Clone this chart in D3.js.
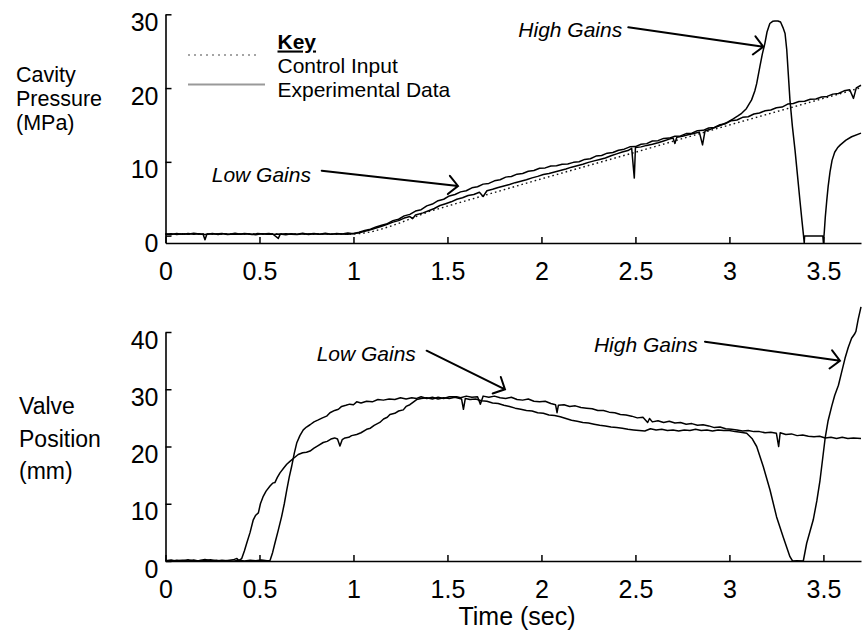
<!DOCTYPE html>
<html>
<head>
<meta charset="utf-8">
<script src="https://cdn.jsdelivr.net/npm/d3@7"></script>
<style>
  body { margin: 0; background: #fff; }
  svg { display: block; font-family: "Liberation Sans", Arial, Helvetica, sans-serif; }
</style>
</head>
<body>
<svg id="chart" width="863" height="639"></svg>
<script>
// ---- data -------------------------------------------------------------
const timeTicks = [0, 0.5, 1, 1.5, 2, 2.5, 3, 3.5];
const pressureTicks = [0, 10, 20, 30];
const valveTicks = [0, 10, 20, 30, 40];

// control input (MPa) vs time (s)
const controlInput = [
  [0,0.22],[1.0,0.22],[1.05,0.32],[1.1,0.55],[1.15,0.9],[1.2,1.3],[1.25,1.75],[1.3,2.25],
  [1.35,2.75],[1.4,3.25],[1.5,4.0],[1.75,5.85],[2.0,7.7],[2.25,9.5],[2.5,11.3],
  [2.75,13.15],[3.0,15.0],[3.25,16.8],[3.5,18.6],[3.7,20.05]
];

// cavity pressure, low gains (MPa)
const pressureLowGains = [
  [0.00,0.22],[0.03,0.14],[0.06,0.28],[0.09,0.17],[0.12,0.30],[0.15,0.19],[0.18,0.26],[0.20,0.18],
  [0.21,-0.55],[0.22,0.20],[0.25,0.29],[0.28,0.16],[0.31,0.27],[0.34,0.20],[0.37,0.32],[0.40,0.18],
  [0.43,0.25],[0.46,0.14],[0.49,0.28],[0.52,0.21],[0.55,0.30],[0.58,0.17],[0.61,0.23],[0.64,0.12],
  [0.67,0.25],[0.70,0.19],[0.73,0.31],[0.76,0.16],[0.79,0.24],[0.82,0.20],[0.85,0.33],[0.88,0.19],
  [0.91,0.27],[0.94,0.22],[0.97,0.34],[1.00,0.25],[1.03,0.45],[1.06,0.70],[1.09,0.86],[1.12,1.18],
  [1.15,1.40],[1.18,1.63],[1.21,2.03],[1.24,2.22],[1.27,2.68],[1.30,2.88],[1.33,3.33],[1.36,3.52],
  [1.39,4.03],[1.42,4.28],[1.45,4.73],[1.48,4.93],[1.51,5.38],[1.54,5.58],[1.57,5.93],[1.60,6.08],
  [1.63,6.48],[1.66,6.62],[1.69,6.98],[1.72,7.08],[1.75,7.43],[1.78,7.58],[1.81,7.93],[1.84,8.02],
  [1.87,8.33],[1.90,8.43],[1.93,8.73],[1.96,8.82],[1.99,9.13],[2.02,9.18],[2.05,9.43],[2.08,9.47],
  [2.11,9.68],[2.14,9.72],[2.17,9.93],[2.20,10.02],[2.23,10.33],[2.26,10.42],[2.29,10.78],[2.32,10.87],
  [2.35,11.18],[2.38,11.27],[2.41,11.58],[2.44,11.72],[2.47,12.03],[2.50,12.07],[2.53,12.38],[2.56,12.47],
  [2.59,12.83],[2.62,12.87],[2.65,13.18],[2.68,13.22],[2.71,13.48],[2.74,13.52],[2.77,13.83],[2.80,13.87],
  [2.83,14.23],[2.86,14.27],[2.89,14.58],[2.92,14.67],[2.95,15.03],[2.98,15.17],[3.01,15.58],[3.04,15.67],
  [3.07,16.03],[3.10,16.12],[3.13,16.48],[3.16,16.62],[3.19,16.93],[3.22,17.02],[3.25,17.33],[3.28,17.42],
  [3.31,17.83],[3.34,17.92],[3.37,18.18],[3.40,18.22],[3.43,18.48],[3.46,18.52],[3.49,18.78],[3.52,18.87],
  [3.55,19.18],[3.58,19.27],[3.61,19.63],[3.64,19.78],[3.66,18.60],[3.675,20.03],[3.70,20.38]
];

// cavity pressure, high gains (MPa)
const pressureHighGains = [
  [0.00,0.20],[0.03,0.27],[0.06,0.16],[0.09,0.25],[0.12,0.19],[0.15,0.31],[0.18,0.22],[0.21,0.16],
  [0.24,0.26],[0.27,0.21],[0.30,0.29],[0.33,0.15],[0.36,0.23],[0.39,0.19],[0.42,0.28],[0.45,0.22],
  [0.48,0.13],[0.51,0.25],[0.54,0.18],[0.57,0.22],[0.60,-0.38],[0.61,0.17],[0.64,0.26],[0.67,0.20],
  [0.70,0.14],[0.73,0.25],[0.76,0.21],[0.79,0.30],[0.82,0.19],[0.85,0.24],[0.88,0.17],[0.91,0.28],
  [0.94,0.23],[0.97,0.19],[1.00,0.30],[1.03,0.40],[1.06,0.58],[1.09,0.78],[1.12,1.03],[1.15,1.28],
  [1.18,1.53],[1.21,1.83],[1.24,2.03],[1.27,2.38],[1.30,2.58],[1.315,2.30],[1.33,2.80],[1.37,3.08],
  [1.40,3.38],[1.43,3.68],[1.46,4.08],[1.49,4.33],[1.52,4.58],[1.55,4.93],[1.58,5.13],[1.61,5.43],
  [1.64,5.58],[1.67,5.88],[1.69,5.30],[1.71,6.08],[1.74,6.28],[1.77,6.53],[1.80,6.73],[1.83,6.93],
  [1.86,7.18],[1.89,7.38],[1.92,7.58],[1.95,7.83],[1.98,8.03],[2.01,8.28],[2.04,8.43],[2.07,8.63],
  [2.10,8.83],[2.13,9.03],[2.16,9.28],[2.19,9.48],[2.22,9.68],[2.25,9.93],[2.28,10.13],[2.31,10.33],
  [2.34,10.53],[2.37,10.83],[2.40,11.08],[2.43,11.33],[2.46,11.53],[2.48,11.83],[2.494,7.80],[2.50,11.93],
  [2.53,12.03],[2.56,12.23],[2.59,12.38],[2.62,12.58],[2.65,12.83],[2.68,13.08],[2.70,13.23],[2.71,12.50],
  [2.72,13.33],[2.75,13.48],[2.78,13.68],[2.81,13.83],[2.84,14.03],[2.857,12.30],[2.87,14.18],[2.90,14.43],
  [2.93,14.73],[2.96,15.03],[2.99,15.38],[3.02,15.83],[3.045,16.23],[3.065,16.58],[3.09,17.20],[3.118,18.40],
  [3.135,19.60],[3.145,20.60],[3.162,22.90],[3.175,24.60],[3.189,26.10],[3.20,27.60],[3.215,28.75],[3.23,29.05],
  [3.242,29.10],[3.258,29.10],[3.272,28.95],[3.285,28.20],[3.296,27.40],[3.305,25.20],[3.322,18.40],[3.335,14.80],
  [3.349,11.60],[3.362,8.20],[3.375,4.80],[3.386,2.00],[3.393,0.30],[3.398,-1.00],[3.40,-0.05],[3.497,-0.05],
  [3.50,-1.00],[3.505,0.60],[3.51,2.50],[3.518,4.80],[3.525,6.60],[3.535,8.60],[3.546,10.20],[3.56,11.30],
  [3.575,11.90],[3.59,12.30],[3.62,12.95],[3.65,13.40],[3.70,13.90]
];

// valve position, low gains (mm)
const valveLowGains = [
  [0.00,0.10],[0.03,-0.05],[0.06,0.15],[0.09,0.05],[0.12,0.20],[0.15,0.00],[0.18,0.10],[0.21,0.25],
  [0.24,0.05],[0.27,0.15],[0.30,-0.05],[0.33,0.10],[0.36,0.20],[0.38,0.45],[0.39,0.05],[0.405,0.40],
  [0.42,1.80],[0.432,3.10],[0.45,5.00],[0.467,7.20],[0.48,8.00],[0.494,8.40],[0.505,10.00],[0.52,11.30],
  [0.535,12.20],[0.556,13.10],[0.57,13.60],[0.582,13.70],[0.595,14.60],[0.609,15.40],[0.63,16.30],[0.645,16.90],
  [0.662,17.40],[0.68,17.90],[0.706,18.60],[0.73,18.90],[0.75,19.00],[0.769,19.20],[0.79,19.70],[0.81,20.10],
  [0.839,20.70],[0.86,20.90],[0.88,21.30],[0.90,21.50],[0.915,21.30],[0.928,20.10],[0.94,21.20],[0.955,21.50],
  [0.975,21.60],[0.99,21.90],[1.017,22.10],[1.04,22.40],[1.07,23.00],[1.09,23.20],[1.11,23.70],[1.14,24.20],
  [1.16,24.80],[1.18,25.10],[1.194,25.60],[1.22,25.80],[1.24,26.20],[1.265,26.40],[1.28,27.00],[1.30,27.30],
  [1.32,27.80],[1.336,28.20],[1.36,28.40],[1.39,28.50],[1.42,28.30],[1.45,28.60],[1.48,28.40],[1.51,28.70],
  [1.549,28.70],[1.57,28.50],[1.60,28.80],[1.63,28.60],[1.66,28.70],[1.675,27.40],[1.69,28.80],[1.72,28.60],
  [1.75,28.80],[1.78,28.50],[1.81,28.40],[1.84,28.60],[1.87,28.20],[1.90,28.10],[1.93,28.30],[1.96,27.90],
  [1.99,27.80],[2.02,27.90],[2.05,27.50],[2.075,27.30],[2.083,25.90],[2.09,27.20],[2.12,27.30],[2.15,27.00],
  [2.18,27.10],[2.21,26.80],[2.24,26.70],[2.27,26.60],[2.30,26.30],[2.33,26.30],[2.36,26.00],[2.39,25.90],
  [2.42,25.60],[2.45,25.50],[2.48,25.30],[2.51,25.00],[2.54,25.10],[2.565,24.20],[2.575,24.90],[2.59,24.30],
  [2.62,24.50],[2.65,24.20],[2.68,24.40],[2.71,24.10],[2.74,24.20],[2.77,23.90],[2.80,24.00],[2.83,23.70],
  [2.86,23.80],[2.89,23.60],[2.92,23.30],[2.95,23.40],[2.98,23.10],[3.01,23.00],[3.04,22.90],[3.07,22.70],
  [3.10,22.80],[3.13,22.60],[3.16,22.60],[3.19,22.40],[3.22,22.50],[3.25,22.30],[3.262,20.00],[3.27,22.40],
  [3.30,22.10],[3.33,22.20],[3.36,21.90],[3.39,22.00],[3.42,21.80],[3.45,21.70],[3.48,21.80],[3.51,21.50],
  [3.54,21.60],[3.57,21.40],[3.60,21.60],[3.63,21.40],[3.66,21.50],[3.70,21.40]
];

// valve position, high gains (mm)
const valveHighGains = [
  [0.00,0.05],[0.03,0.18],[0.06,-0.02],[0.09,0.12],[0.12,0.02],[0.15,0.16],[0.18,-0.04],[0.21,0.10],
  [0.24,0.20],[0.27,0.00],[0.30,0.14],[0.33,0.05],[0.36,-0.05],[0.39,0.12],[0.42,0.02],[0.45,0.15],
  [0.48,0.05],[0.51,0.18],[0.54,0.03],[0.556,0.10],[0.57,1.50],[0.582,3.10],[0.60,5.40],[0.618,7.80],
  [0.632,10.00],[0.645,12.40],[0.658,14.60],[0.671,16.50],[0.685,18.80],[0.698,20.60],[0.715,21.90],[0.733,22.90],
  [0.75,23.40],[0.769,23.80],[0.79,24.30],[0.81,24.60],[0.835,25.00],[0.857,25.30],[0.875,25.90],[0.90,26.30],
  [0.92,26.50],[0.937,27.00],[0.96,27.20],[0.98,27.40],[1.00,27.30],[1.017,27.80],[1.04,27.60],[1.07,27.90],
  [1.10,27.80],[1.13,28.20],[1.159,28.10],[1.19,28.30],[1.22,28.20],[1.25,28.50],[1.28,28.30],[1.31,28.50],
  [1.336,28.40],[1.36,28.70],[1.39,28.40],[1.42,28.60],[1.45,28.30],[1.48,28.50],[1.51,28.40],[1.54,28.60],
  [1.575,28.30],[1.585,26.50],[1.595,28.40],[1.62,28.20],[1.65,28.30],[1.68,28.00],[1.71,27.90],[1.74,27.60],
  [1.77,27.50],[1.80,27.20],[1.83,27.00],[1.86,26.70],[1.89,26.50],[1.92,26.30],[1.95,26.20],[1.98,25.90],
  [2.01,25.80],[2.04,25.50],[2.07,25.40],[2.10,25.20],[2.13,24.90],[2.16,24.60],[2.19,24.40],[2.22,24.20],
  [2.25,24.10],[2.28,23.90],[2.31,23.70],[2.34,23.60],[2.37,23.40],[2.40,23.30],[2.43,23.20],[2.46,23.00],
  [2.49,22.90],[2.52,22.80],[2.55,22.70],[2.58,23.10],[2.61,22.90],[2.64,23.00],[2.67,22.80],[2.70,22.90],
  [2.73,22.70],[2.76,22.90],[2.79,22.80],[2.82,23.00],[2.85,22.80],[2.88,22.90],[2.91,22.70],[2.94,22.90],
  [2.97,22.80],[3.00,22.80],[3.03,22.60],[3.06,22.50],[3.092,22.30],[3.12,21.40],[3.145,20.00],[3.18,16.50],
  [3.216,12.40],[3.251,7.70],[3.286,4.20],[3.322,0.75],[3.336,0.00],[3.36,0.05],[3.393,0.00],[3.411,3.10],
  [3.446,7.20],[3.465,10.50],[3.482,14.10],[3.495,17.60],[3.509,21.40],[3.525,24.50],[3.544,27.00],[3.56,28.90],
  [3.58,30.70],[3.597,33.00],[3.615,35.40],[3.632,37.30],[3.65,38.90],[3.665,39.60],[3.673,40.10],[3.685,42.20],
  [3.70,44.40]
];

// annotations: text anchor and arrow from/to, in data units of each panel
const pressureNotes = [
  { text: "Low Gains",  at: [0.246, 7.31],  from: [0.831, 8.80],  to: [1.556, 6.73] },
  { text: "High Gains", at: [1.877, 26.93], from: [2.462, 28.24], to: [3.180, 25.61] }
];
const valveNotes = [
  { text: "Low Gains",  at: [0.804, 34.93], from: [1.389, 36.73], to: [1.806, 29.99] },
  { text: "High Gains", at: [2.279, 36.56], from: [2.870, 38.31], to: [3.588, 34.99] }
];

// ---- drawing ----------------------------------------------------------
const svg = d3.select("#chart");
const TICK_FONT = 25;

const x = d3.scaleLinear().domain([0, 3.7]).range([165.5, 861]);
const yP = d3.scaleLinear().domain([-1, 30]).range([243, 14.3]);
const yV = d3.scaleLinear().domain([0, 40]).range([561, 332]);

function styleAxis(g) {
  g.select(".domain").attr("stroke", "#000").attr("stroke-width", 1.6);
  g.selectAll(".tick line").attr("stroke", "#000").attr("stroke-width", 1.5);
  g.selectAll("text").attr("fill", "#000").style("font-size", TICK_FONT + "px")
    .style("font-family", "'Liberation Sans', Arial, sans-serif");
}

function drawPanel(y, ticks) {
  const gx = svg.append("g")
    .attr("transform", `translate(0,${y.range()[0]})`)
    .call(d3.axisBottom(x).tickValues(timeTicks).tickFormat(d3.format(""))
      .tickSizeInner(-6).tickSizeOuter(0));
  styleAxis(gx);
  gx.selectAll("text").attr("y", 37).attr("dy", null);

  const gy = svg.append("g")
    .attr("transform", `translate(${x.range()[0]},0)`)
    .call(d3.axisLeft(y).tickValues(ticks).tickFormat(d3.format("d"))
      .tickSizeInner(-6).tickSizeOuter(0));
  styleAxis(gy);
  gy.selectAll("text").attr("x", -7).attr("dy", null).attr("y", 16);
}

function drawLine(data, y, opts = {}) {
  const line = d3.line().x(d => x(d[0])).y(d => y(d[1]));
  svg.append("path").datum(data)
    .attr("d", line)
    .attr("fill", "none")
    .attr("stroke", opts.color || "#000")
    .attr("stroke-width", opts.width || 1.5)
    .attr("stroke-dasharray", opts.dash || null)
    .attr("stroke-linejoin", "round");
}

function drawNotes(notes, y) {
  notes.forEach(n => {
    svg.append("text")
      .attr("x", x(n.at[0])).attr("y", y(n.at[1]))
      .style("font-size", "21px").style("font-style", "italic")
      .text(n.text);
    const x1 = x(n.from[0]), y1 = y(n.from[1]);
    const x2 = x(n.to[0]), y2 = y(n.to[1]);
    const ang = Math.atan2(y2 - y1, x2 - x1);
    const L = 13, spread = Math.PI / 4;
    const ax = x2 - L * Math.cos(ang - spread), ay = y2 - L * Math.sin(ang - spread);
    const bx = x2 - L * Math.cos(ang + spread), by = y2 - L * Math.sin(ang + spread);
    svg.append("path")
      .attr("d", `M${x1},${y1}L${x2},${y2}M${ax},${ay}L${x2},${y2}L${bx},${by}`)
      .attr("fill", "none").attr("stroke", "#000").attr("stroke-width", 2)
      .attr("stroke-linecap", "round").attr("stroke-linejoin", "miter");
  });
}

// top panel: cavity pressure
drawPanel(yP, pressureTicks);
drawLine(controlInput, yP, { dash: "1.6,3", width: 1.4, color: "#111" });
drawLine(pressureHighGains, yP);
drawLine(pressureLowGains, yP);
drawNotes(pressureNotes, yP);

// bottom panel: valve position
drawPanel(yV, valveTicks);
drawLine(valveHighGains, yV);
drawLine(valveLowGains, yV);
drawNotes(valveNotes, yV);

// axis titles
const titleStyle = (t, size) => t.style("font-size", size + "px").attr("fill", "#000");
[["Cavity", 82], ["Pressure", 106], ["(MPa)", 130]].forEach(([s, yy]) =>
  svg.append("text").attr("x", 16).attr("y", yy).text(s).call(titleStyle, 21.5));
[["Valve", 414], ["Position", 447], ["(mm)", 479]].forEach(([s, yy]) =>
  svg.append("text").attr("x", 19).attr("y", yy).text(s).call(titleStyle, 23));
svg.append("text").attr("x", 517).attr("y", 625).attr("text-anchor", "middle")
  .text("Time (sec)").call(titleStyle, TICK_FONT);

// key
const key = svg.append("g");
key.append("text").attr("x", 277.5).attr("y", 48.5)
  .style("font-size", "21px").style("font-weight", "bold")
  .style("text-decoration", "underline").text("Key");
key.append("line").attr("x1", 188).attr("x2", 260).attr("y1", 55).attr("y2", 55)
  .attr("stroke", "#888").attr("stroke-width", 1.4).attr("stroke-dasharray", "2,4");
key.append("text").attr("x", 277.5).attr("y", 73).style("font-size", "21px").text("Control Input");
key.append("line").attr("x1", 188).attr("x2", 265).attr("y1", 84.5).attr("y2", 84.5)
  .attr("stroke", "#999").attr("stroke-width", 2.2);
key.append("text").attr("x", 277.5).attr("y", 97).style("font-size", "21px").text("Experimental Data");
</script>
</body>
</html>
